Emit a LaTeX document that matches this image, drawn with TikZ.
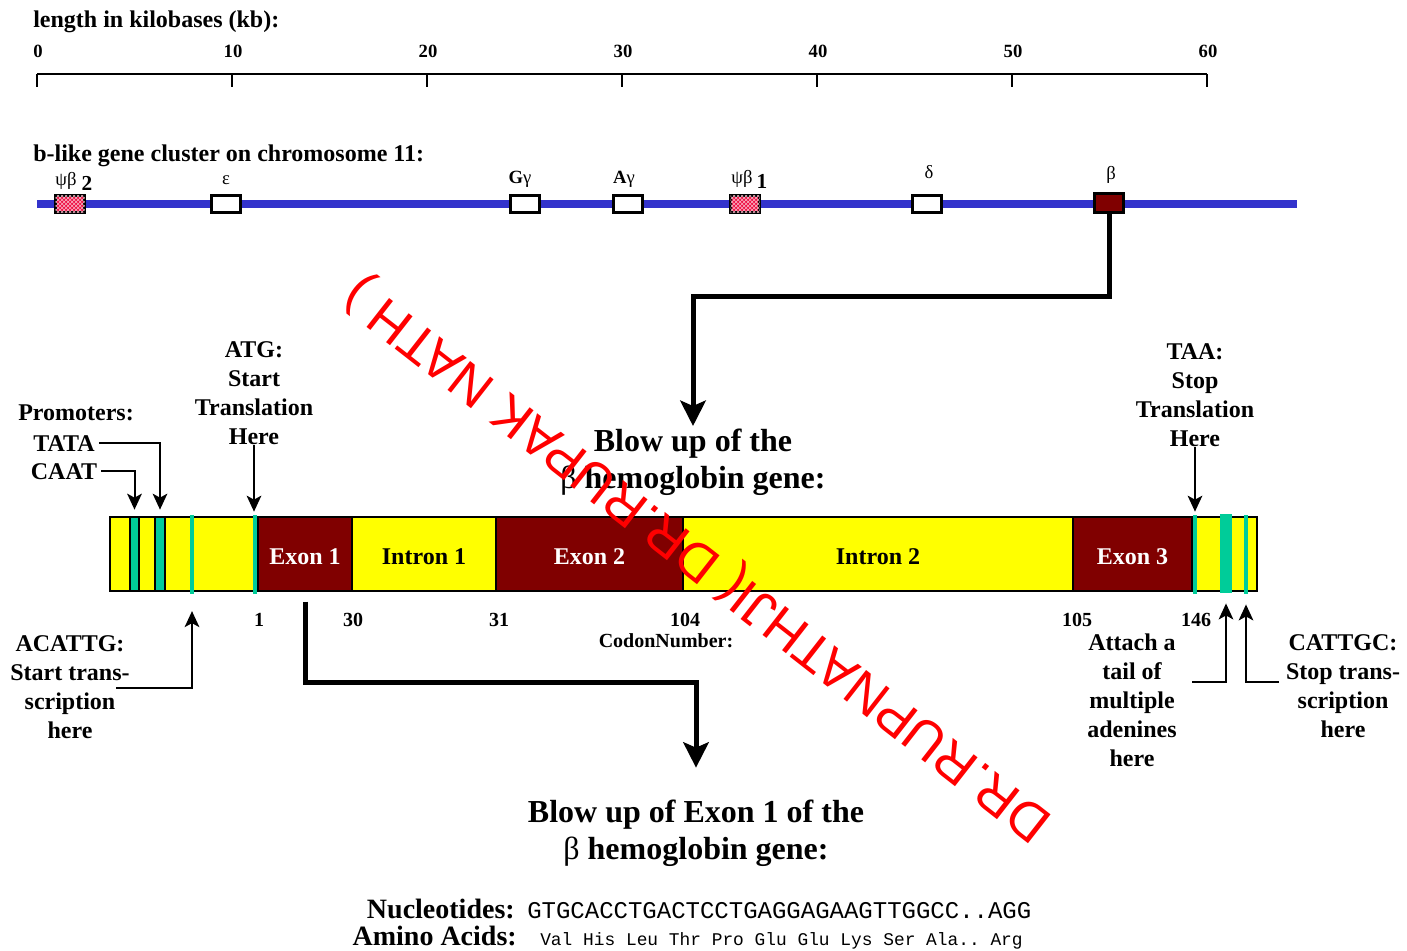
\documentclass[tikz,border=0pt]{standalone}
\usepackage{fontspec}
\setmainfont{Liberation Serif}
\setmonofont{Liberation Mono}
\newfontfamily\wmfont{Liberation Sans}
\usetikzlibrary{arrows.meta,positioning,patterns,calc}
\definecolor{chromblue}{HTML}{3333CC}
\definecolor{exonred}{HTML}{800000}
\definecolor{intronyel}{HTML}{FFFF00}
\definecolor{cteal}{HTML}{00CC99}
\definecolor{pseudored}{HTML}{EE1144}
\definecolor{wmred}{HTML}{FF0000}
\newcommand{\px}{0.75pt}

\begin{document}
\begin{tikzpicture}[
  x=0.75pt, y=-0.75pt,
  head/.style={font=\bfseries\fontsize{18}{21.75}\selectfont, inner sep=0pt, anchor=base west},
  kbnum/.style={font=\bfseries\fontsize{14}{16}\selectfont, inner sep=0pt, anchor=base},
  genelbl/.style={font=\fontsize{14}{16}\selectfont, inner sep=0pt, anchor=base},
  genesub/.style={font=\bfseries\fontsize{16}{18}\selectfont, inner sep=0pt, anchor=base},
  genebox/.style={draw, line width=2.25pt, fill=white, minimum width=29*\px,
                  minimum height=17*\px, inner sep=0pt},
  pseudo/.style={genebox, fill=pseudored,
                 postaction={pattern=crosshatch, pattern color=white!70!pseudored}},
  seg/.style={draw, line width=1.5pt, minimum height=74*\px, inner sep=0pt, outer sep=0pt,
              text height=16pt, font=\bfseries\fontsize{18}{21}\selectfont},
  exon/.style={seg, fill=exonred, text=white},
  intron/.style={seg, fill=intronyel},
  stripe/.style={fill=cteal, draw=none, minimum height=79*\px, inner sep=0pt},
  promo/.style={fill=cteal, draw, line width=1pt, minimum height=74*\px,
                minimum width=9*\px, inner sep=0pt},
  lbl/.style={font=\bfseries\fontsize{18}{21.75}\selectfont, align=center, inner sep=0pt},
  codon/.style={font=\bfseries\fontsize{15}{18}\selectfont, inner sep=0pt, anchor=base},
  blowtitle/.style={font=\bfseries\fontsize{24}{27.75}\selectfont, align=center, inner sep=2pt},
  arr/.style={-{Stealth[length=12pt, width=11pt, inset=3pt]}, line width=1.5pt},
  bigarr/.style={-{Stealth[length=19pt, width=19pt, inset=4pt]}, line width=3.75pt},
]
\useasboundingbox (0,0) rectangle (1407,950);
% ---------- scale in kb ----------
\node[head] (kbhead) at (33,27) {length in kilobases (kb):};
\draw[line width=1.5pt] (37,74) -- (1207,74);
\foreach \k in {0,...,6}{
  \pgfmathtruncatemacro\kb{10*\k}
  \draw[line width=1.5pt] ({37+195*\k},74) -- ({37+195*\k},87);
  \node[kbnum] (kb\k) at ({38+195*\k},57) {\kb};
}
% ---------- gene cluster ----------
\node[head] (clhead) at (33,161) {b-like gene cluster on chromosome 11:};
\draw[chromblue, line width=6pt] (37,204) -- (1297,204);
\node[pseudo] (gpsi2) at (70,204) {};
\node[genebox] (geps) at (226,204) {};
\node[genebox] (gGg) at (525,204) {};
\node[genebox] (gAg) at (628,204) {};
\node[pseudo] (gpsi1) at (745,204) {};
\node[genebox] (gdelta) at (927,204) {};
\node[genebox, fill=exonred, minimum height=19*\px] (gbeta) at (1109,203) {};
\node[genelbl] (lpsi2) at (66,185) {ψβ};
\node[genesub] (lpsi2n) at (87,190) {2};
\node[genelbl] (leps) at (226,184) {ε};
\node[genelbl] (lGg) at (520,183) {{\bfseries G}γ};
\node[genelbl] (lAg) at (624,183) {{\bfseries A}γ};
\node[genelbl] (lpsi1) at (742,183) {ψβ};
\node[genesub] (lpsi1n) at (762,188) {1};
\node[genelbl] (ldelta) at (929,178) {δ};
\node[genelbl] (lbeta) at (1111,179) {β};
% ---------- blow up of the beta gene ----------
\node[blowtitle, anchor=north] (blowgene) at (693,426) {Blow up of the\\{\mdseries β} hemoglobin gene:};
\coordinate (bend1) at (693,296);
\draw[bigarr] (gbeta.south) |- (bend1) -- (blowgene.north);
\node[intron, minimum width=148*\px, anchor=west] (lead) at (110,554) {};
\node[exon, minimum width=94*\px, right=0pt of lead] (ex1) {Exon 1};
\node[intron, minimum width=144*\px, right=0pt of ex1] (in1) {Intron 1};
\node[exon, minimum width=187*\px, right=0pt of in1] (ex2) {Exon 2};
\node[intron, minimum width=390*\px, right=0pt of ex2] (in2) {Intron 2};
\node[exon, minimum width=119*\px, right=0pt of in2] (ex3) {Exon 3};
\node[intron, minimum width=65*\px, right=0pt of ex3] (tail) {};
% sites on the gene
\node[promo] (pcaat) at (134.5,554) {};
\node[promo, minimum width=10*\px] (ptata) at (160,554) {};
\node[stripe, minimum width=4*\px] (txstart) at (192,554) {};
\node[stripe, minimum width=4*\px] (atgsite) at (255,554) {};
\node[stripe, minimum width=4*\px] (taasite) at (1195,554) {};
\node[stripe, minimum width=12*\px] (polyA) at (1226,553) {};
\node[stripe, minimum width=4*\px] (txstop) at (1246,554) {};
% labels above the gene
\node[lbl, anchor=north] (prom) at (76,405) {Promoters:};
\node[lbl, anchor=base] (tata) at (64,451) {TATA};
\node[lbl, anchor=base] (caat) at (64,479) {CAAT};
\draw[arr, shorten >=5pt] ([xshift=3pt]tata.east) -| (ptata.north);
\draw[arr, shorten >=5pt] ([xshift=3pt]caat.east) -| (pcaat.north);
\node[lbl, anchor=north] (atg) at (254,341) {ATG:\\Start\\Translation\\Here};
\draw[arr, shorten >=4pt] (atg.south) -- (atg.south |- lead.north);
\node[lbl, anchor=north] (taa) at (1195,343) {TAA:\\Stop\\Translation\\Here};
\draw[arr, shorten >=4pt] (taa.south) -- (taa.south |- tail.north);
% labels below the gene
\foreach \v/\x in {1/259, 30/353, 31/499, 104/685, 105/1077, 146/1196}
  \node[codon] (c\v) at (\x,626) {\v};
\node[codon] (cnum) at (666,647) {CodonNumber:};
\node[lbl, anchor=north] (acattg) at (70,635) {ACATTG:\\Start trans-\\scription\\here};
\coordinate (acfoot) at (116,688);
\draw[arr, shorten >=13pt] (acfoot) -| (txstart.south);
\node[lbl, anchor=north] (polytxt) at (1132,634) {Attach a\\tail of\\multiple\\adenines\\here};
\coordinate (pafoot) at (1192,682);
\draw[arr, shorten >=8pt] (pafoot) -| (polyA.south);
\node[lbl, anchor=north] (cattgc) at (1343,634) {CATTGC:\\Stop trans-\\scription\\here};
\coordinate (ctfoot) at (1279,682);
\draw[arr, shorten >=8pt] (ctfoot) -| (txstop.south);
% ---------- blow up of exon 1 ----------
\node[blowtitle, anchor=north] (blowexon) at (696,797) {Blow up of Exon 1 of the\\{\mdseries β} hemoglobin gene:};
\coordinate (bend2) at (696,682);
\draw[bigarr, shorten <=8pt, shorten >=22pt] (ex1.south) |- (bend2) -- (blowexon.north);
\node[font=\bfseries\fontsize{21}{24}\selectfont, inner sep=0pt, anchor=base east] (ntlbl) at (515,918) {Nucleotides:};
\node[font=\ttfamily\fontsize{18}{20}\selectfont, inner sep=0pt, anchor=base west] (ntseq) at (527,918) {GTGCACCTGACTCCTGAGGAGAAGTTGGCC..AGG};
\node[font=\bfseries\fontsize{21}{24}\selectfont, inner sep=0pt, anchor=base east] (aalbl) at (517,945) {Amino Acids:};
\node[font=\ttfamily\fontsize{13.4}{15}\selectfont, inner sep=0pt, anchor=base west] (aaseq) at (540,945) {Val His Leu Thr Pro Glu Glu Lys Ser Ala.. Arg};
% watermark
\node[font=\wmfont\fontsize{40}{48}\selectfont, text=wmred, rotate=142, inner sep=0pt] (wmark) at (699,557) {DR.RUPNATHJI( DR.RUPAK NATH )};
\end{tikzpicture}
\end{document}
